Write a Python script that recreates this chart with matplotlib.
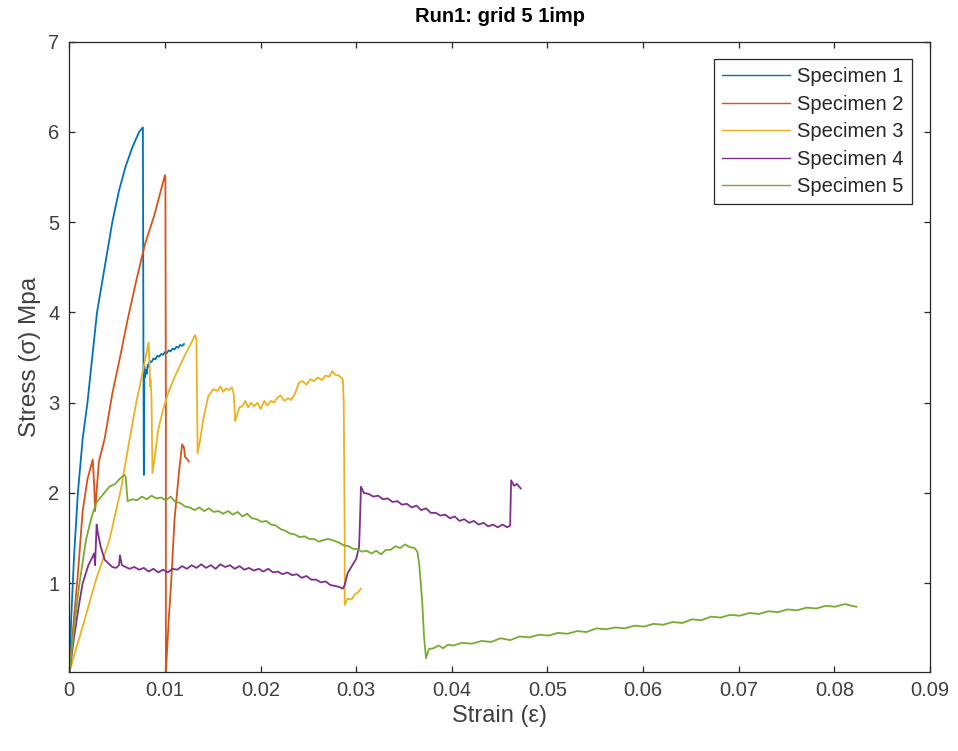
import matplotlib.pyplot as plt

# Stress-strain traces (strain, stress in MPa)
s1_strain = [0, 0.0002, 0.0005, 0.0009, 0.0014, 0.0019, 0.0024, 0.0029, 0.0037, 0.0045,
             0.0052, 0.0059, 0.0066, 0.0073, 0.0077, 0.00772, 0.00775, 0.00778, 0.0078,
             0.00785, 0.0079, 0.0080, 0.0081, 0.0082, 0.0083, 0.0084, 0.0086, 0.0088,
             0.0090, 0.0092, 0.0094, 0.0096, 0.0098, 0.0100, 0.0102, 0.0104, 0.0106,
             0.0108, 0.0110, 0.0112, 0.0114, 0.0116, 0.0118, 0.0120]
s1_stress = [0, 0.6, 1.3, 2.0, 2.6, 3.0, 3.5, 4.0, 4.5, 5.0,
             5.35, 5.62, 5.83, 6.0, 6.05, 5.0, 3.8, 2.6, 2.2,
             3.40, 3.28, 3.36, 3.32, 3.42, 3.40, 3.46, 3.45, 3.49,
             3.48, 3.52, 3.51, 3.54, 3.53, 3.56, 3.55, 3.58, 3.57,
             3.60, 3.59, 3.62, 3.61, 3.64, 3.63, 3.65]

s2_strain = [0, 0.0004, 0.0009, 0.0014, 0.0019, 0.00245, 0.0026, 0.0027, 0.0031, 0.0037,
             0.0045, 0.0053, 0.0061, 0.0070, 0.0079, 0.0089, 0.0097, 0.0100, 0.01005,
             0.0101, 0.0101, 0.0104, 0.01065, 0.0110, 0.0115, 0.0118, 0.0120, 0.0121,
             0.0123, 0.0125]
s2_stress = [0, 0.5, 1.1, 1.8, 2.15, 2.37, 2.1, 1.8, 2.35, 2.6,
             3.1, 3.5, 3.92, 4.35, 4.75, 5.08, 5.4, 5.52, 5.5,
             3.0, 0.0, 0.6, 1.0, 1.7, 2.26, 2.54, 2.5, 2.4,
             2.38, 2.35]

s3_strain = [0, 0.0005, 0.0014, 0.0028, 0.0042, 0.0054, 0.0063, 0.0070, 0.0077, 0.0083,
             0.0084, 0.00845, 0.0085, 0.0086, 0.00865, 0.0087, 0.0090, 0.0093, 0.0098,
             0.01035, 0.0110, 0.01157, 0.0122, 0.0128, 0.01314, 0.0133, 0.01342, 0.0137,
             0.0140, 0.01453, 0.01505, 0.0155, 0.0158, 0.0161, 0.0164, 0.0167, 0.0170,
             0.0172, 0.01735, 0.0175, 0.0178, 0.0181, 0.0184, 0.0187, 0.0190, 0.0193,
             0.0197, 0.0200, 0.0204, 0.0207, 0.0211, 0.0214, 0.0218, 0.0221, 0.0225,
             0.0229, 0.0232, 0.0236, 0.0240, 0.0244, 0.0248, 0.0252, 0.0256, 0.0260,
             0.0264, 0.0268, 0.0272, 0.0275, 0.0278, 0.0282, 0.0286, 0.0287, 0.0288,
             0.0288, 0.0291, 0.0295, 0.0299, 0.0302, 0.0305]
s3_stress = [0, 0.2, 0.52, 1.04, 1.48, 2.04, 2.59, 3.0, 3.35, 3.67,
             3.4, 3.18, 3.25, 3.05, 2.6, 2.22, 2.45, 2.70, 2.92,
             3.11, 3.28, 3.41, 3.55, 3.67, 3.75, 3.70, 2.44, 2.6,
             2.81, 3.07, 3.15, 3.13, 3.18, 3.12, 3.16, 3.14, 3.17,
             3.10, 2.80, 2.85, 2.95, 2.96, 3.02, 2.95, 3.00, 2.96,
             3.00, 2.93, 3.02, 2.97, 3.02, 3.00, 3.06, 3.08, 3.02,
             3.05, 3.03, 3.10, 3.22, 3.24, 3.20, 3.26, 3.24, 3.28,
             3.25, 3.30, 3.29, 3.35, 3.31, 3.30, 3.26, 3.00, 1.50,
             0.76, 0.83, 0.82, 0.88, 0.90, 0.94]

s4_strain = [0, 0.0005, 0.0010, 0.0014, 0.0020, 0.0026, 0.0027, 0.00286, 0.0030, 0.0033,
             0.0037, 0.0041, 0.0045, 0.0049, 0.0052, 0.0053, 0.0055, 0.0059, 0.0063,
             0.0068, 0.0073, 0.0078, 0.0083, 0.0088, 0.0093, 0.0098, 0.0103, 0.0108,
             0.0113, 0.0118, 0.0123, 0.0128, 0.0133, 0.0138, 0.0143, 0.0148, 0.0153,
             0.0158, 0.0163, 0.0168, 0.0173, 0.0178, 0.0183, 0.0188, 0.0193, 0.0198,
             0.0203, 0.0208, 0.0213, 0.0218, 0.0223, 0.0228, 0.0233, 0.0238, 0.0243,
             0.0248, 0.0253, 0.0258, 0.0263, 0.0268, 0.0273, 0.0278, 0.0282, 0.0286,
             0.0288, 0.0291, 0.0296, 0.0300, 0.0303, 0.0304, 0.0305, 0.0308, 0.0313,
             0.0318, 0.0323, 0.0328, 0.0333, 0.0338, 0.0343, 0.0348, 0.0353, 0.0358,
             0.0363, 0.0368, 0.0373, 0.0378, 0.0383, 0.0388, 0.0393, 0.0398, 0.0403,
             0.0408, 0.0413, 0.0418, 0.0423, 0.0428, 0.0433, 0.0438, 0.0443, 0.0448,
             0.0453, 0.0458, 0.0461, 0.04615, 0.0462, 0.0465, 0.0468, 0.0472]
s4_stress = [0, 0.4, 0.75, 1.0, 1.2, 1.33, 1.2, 1.65, 1.55, 1.40,
             1.26, 1.22, 1.18, 1.17, 1.20, 1.31, 1.20, 1.18, 1.16,
             1.18, 1.15, 1.17, 1.13, 1.16, 1.12, 1.15, 1.12, 1.16,
             1.15, 1.19, 1.16, 1.20, 1.17, 1.21, 1.17, 1.20, 1.16,
             1.21, 1.18, 1.20, 1.16, 1.19, 1.15, 1.17, 1.14, 1.16,
             1.13, 1.16, 1.12, 1.13, 1.10, 1.12, 1.09, 1.10, 1.06,
             1.08, 1.04, 1.04, 1.01, 1.02, 0.98, 0.97, 0.96, 0.94,
             0.98, 1.11, 1.20, 1.27, 1.40, 1.70, 2.07, 2.00, 1.99,
             1.96, 1.97, 1.93, 1.94, 1.90, 1.91, 1.87, 1.88, 1.84,
             1.86, 1.81, 1.83, 1.78, 1.78, 1.75, 1.76, 1.72, 1.74,
             1.69, 1.71, 1.67, 1.69, 1.65, 1.67, 1.63, 1.65, 1.62,
             1.65, 1.62, 1.64, 1.90, 2.14, 2.08, 2.10, 2.05]

s5_strain = [0, 0.0005, 0.0010, 0.00175, 0.0023, 0.0028, 0.0035, 0.0042, 0.0048, 0.0053,
             0.00575, 0.0059, 0.0061, 0.0066, 0.0071, 0.0076, 0.0081, 0.0086, 0.0091,
             0.0096, 0.0101, 0.0106, 0.0111, 0.0116, 0.0121, 0.0126, 0.0131, 0.0136,
             0.0141, 0.0146, 0.0151, 0.0156, 0.0161, 0.0166, 0.0171, 0.0176, 0.0181,
             0.0186, 0.0191, 0.0196, 0.0201, 0.0206, 0.0211, 0.0216, 0.0221, 0.0226,
             0.0231, 0.0236, 0.0241, 0.0246, 0.0251, 0.0256, 0.0261, 0.0266, 0.0271,
             0.0277, 0.0282, 0.0287, 0.0292, 0.0297, 0.0301, 0.0306, 0.0311, 0.0316,
             0.0321, 0.0326, 0.0331, 0.0336, 0.0341, 0.0346, 0.0351, 0.0356, 0.0361,
             0.0364, 0.0366, 0.0369, 0.0371, 0.0373, 0.0376, 0.0381, 0.0386, 0.0391,
             0.0396, 0.0401, 0.0411, 0.0421, 0.0431, 0.0441, 0.0451, 0.0461, 0.0471,
             0.0481, 0.0491, 0.0501, 0.0511, 0.0521, 0.0531, 0.0541, 0.0551, 0.0561,
             0.0571, 0.0581, 0.0591, 0.0601, 0.0611, 0.0621, 0.0631, 0.0641, 0.0651,
             0.0661, 0.0671, 0.0681, 0.0691, 0.0701, 0.0711, 0.0721, 0.0731, 0.0741,
             0.0751, 0.0761, 0.0771, 0.0781, 0.0791, 0.0801, 0.0811, 0.0818, 0.0823]
s5_stress = [0, 0.5, 0.95, 1.48, 1.72, 1.89, 1.98, 2.07, 2.10, 2.16,
             2.20, 2.18, 1.91, 1.93, 1.92, 1.96, 1.93, 1.97, 1.94,
             1.95, 1.92, 1.96, 1.90, 1.89, 1.85, 1.84, 1.81, 1.84,
             1.80, 1.83, 1.79, 1.80, 1.77, 1.80, 1.76, 1.79, 1.74,
             1.77, 1.72, 1.71, 1.68, 1.69, 1.65, 1.64, 1.60, 1.58,
             1.55, 1.54, 1.51, 1.52, 1.49, 1.49, 1.46, 1.48, 1.49,
             1.47, 1.45, 1.42, 1.41, 1.38, 1.38, 1.35, 1.36, 1.33,
             1.36, 1.32, 1.37, 1.37, 1.41, 1.39, 1.43, 1.40, 1.39,
             1.35, 1.20, 0.80, 0.40, 0.17, 0.27, 0.28, 0.31, 0.28,
             0.32, 0.31, 0.34, 0.33, 0.36, 0.35, 0.39, 0.37, 0.41,
             0.40, 0.43, 0.42, 0.45, 0.44, 0.47, 0.46, 0.50, 0.49,
             0.51, 0.50, 0.53, 0.52, 0.55, 0.54, 0.57, 0.56, 0.60,
             0.59, 0.63, 0.62, 0.65, 0.64, 0.67, 0.66, 0.69, 0.68,
             0.71, 0.70, 0.73, 0.72, 0.75, 0.74, 0.77, 0.75, 0.74]

labels = ['Specimen 1', 'Specimen 2', 'Specimen 3', 'Specimen 4', 'Specimen 5']
colors = ['#0072BD', '#D95319', '#EDB120', '#7E2F8E', '#77AC30']

x_ticks = [0, 0.01, 0.02, 0.03, 0.04, 0.05, 0.06, 0.07, 0.08, 0.09]
x_tick_labels = ['0', '0.01', '0.02', '0.03', '0.04', '0.05', '0.06', '0.07', '0.08', '0.09']
y_ticks = [1, 2, 3, 4, 5, 6, 7]

plt.rcParams['font.family'] = ['Liberation Sans', 'DejaVu Sans']

fig = plt.figure(figsize=(9.58, 7.51), dpi=100)
ax = fig.add_axes([0.0723, 0.1056, 0.8985, 0.8389])

all_strain = [s1_strain, s2_strain, s3_strain, s4_strain, s5_strain]
all_stress = [s1_stress, s2_stress, s3_stress, s4_stress, s5_stress]
for xs, ys, c, lab in zip(all_strain, all_stress, colors, labels):
    ax.plot(xs, ys, color=c, linewidth=1.3, label=lab)

ax.set_xlim(0, 0.09)
ax.set_ylim(0.02, 7)
ax.set_xticks(x_ticks)
ax.set_xticklabels(x_tick_labels)
ax.set_yticks(y_ticks)

axis_color = '#262626'
for sp in ax.spines.values():
    sp.set_color(axis_color)
    sp.set_linewidth(0.9)
ax.tick_params(direction='in', length=4, width=0.9, top=True, right=True,
               colors=axis_color, labelsize=14.5, pad=7)
for lab in ax.get_xticklabels() + ax.get_yticklabels():
    lab.set_color('#404040')

ax.set_xlabel('Strain (ε)', fontsize=17, color='#404040', labelpad=3)
ax.set_ylabel('Stress (σ) Mpa', fontsize=17.5, color='#404040', labelpad=5)
ax.set_title('Run1: grid 5 1imp', fontsize=14.5, fontweight='bold', color='#000000', pad=14)

leg = ax.legend(loc='upper right', bbox_to_anchor=(0.9788, 0.9721), borderaxespad=0,
                fontsize=14.5, handlelength=3.4, handletextpad=0.35, labelspacing=0.42,
                borderpad=0.4, fancybox=False, framealpha=1)
leg.get_frame().set_edgecolor(axis_color)
leg.get_frame().set_linewidth(0.9)
for t in leg.get_texts():
    t.set_color('#262626')
for line in leg.get_lines():
    line.set_linewidth(1.0)

fig.savefig('out.png', dpi=100)
